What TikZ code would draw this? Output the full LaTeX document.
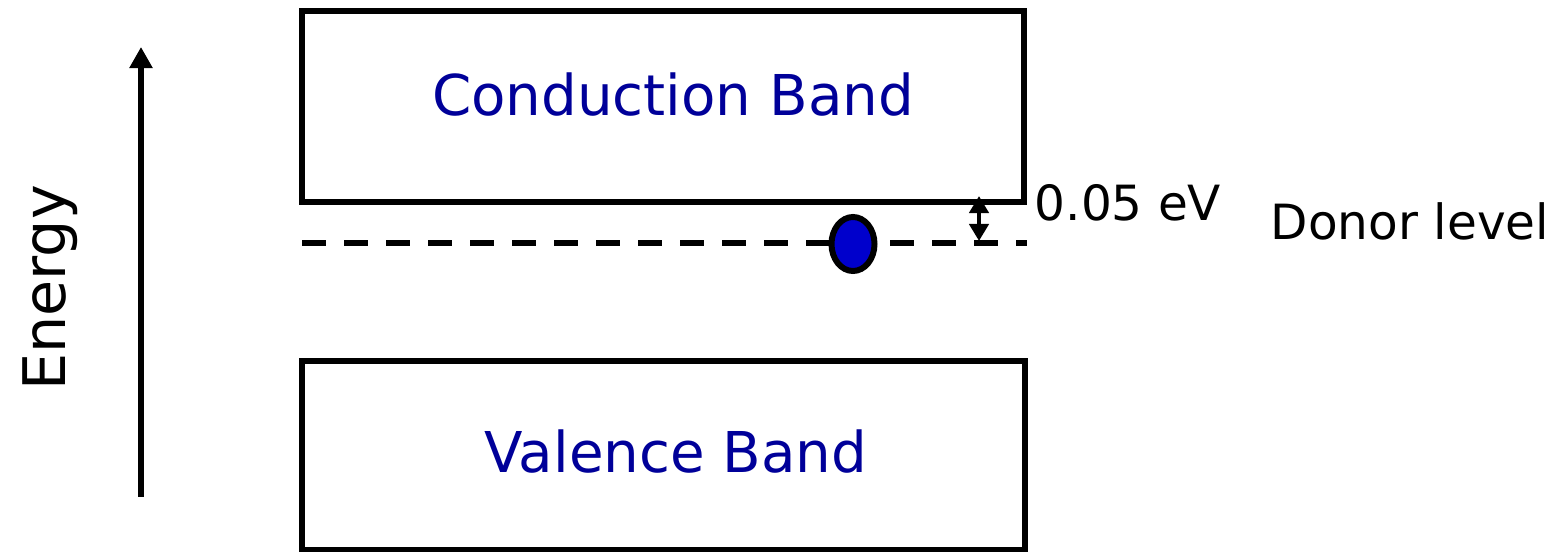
\documentclass[tikz,border=0pt]{standalone}
\usepackage{fontspec}
\setmainfont{DejaVu Sans}
\usepackage{xcolor}
\usetikzlibrary{arrows.meta,shapes.geometric}
\definecolor{bandtext}{HTML}{000099}
\definecolor{electron}{HTML}{0000CC}
\tikzset{
  band/.style={draw=black, line width=1.7pt, minimum width=7.22cm,
               minimum height=1.91cm, inner sep=0pt},
  bandlabel/.style={text=bandtext, font=\fontsize{16}{19}\selectfont, inner sep=0pt},
  smalllabel/.style={text=black, font=\fontsize{13.8}{16}\selectfont, inner sep=0pt},
  gaparrow/.style={{Triangle[length=1.7mm,width=1.9mm]}-{Triangle[length=1.7mm,width=1.9mm]},
                   line width=1.4pt},
  axis/.style={-{Triangle[length=2.1mm,width=2.2mm]}, line width=1.7pt}
}

\begin{document}
\begin{tikzpicture}[x=0.01cm,y=-0.01cm]
  \useasboundingbox (0,0) rectangle (1557,552);
  % the two bands
  \node[band] (cb) at (663,106.5) {};
  \node[band, minimum height=1.89cm] (vb) at (663.5,455.5) {};
  \node[bandlabel] (cblabel) at (673,95) {Conduction Band};
  \node[bandlabel] (vblabel) at (676,452) {Valence Band};
  % donor level just below the conduction band
  \coordinate (lvlL) at (302,243);
  \coordinate (lvlR) at (1027,243);
  \draw[line width=1.7pt, dash pattern=on 0.24cm off 0.18cm] (lvlL) -- (lvlR);
  \node[ellipse, draw, line width=1.7pt, fill=electron, minimum width=0.43cm,
        minimum height=0.54cm, inner sep=0pt] (donorel) at (853,244) {};
  % gap to the band edge
  \coordinate (gaptop) at (979,196);
  \coordinate (gapbot) at (979,241);
  \draw[gaparrow] (gaptop) -- (gapbot);
  \node[smalllabel] (gaplabel) at (1128,203) {0.05 eV};
  \node[smalllabel] (donor) at (1410,221) {Donor level};
  % energy axis
  \coordinate (axlow) at (141,497);
  \coordinate (axhigh) at (141,47);
  \draw[axis] (axlow) -- (axhigh);
  \node[smalllabel, font=\fontsize{16.7}{19}\selectfont, rotate=90] (energy) at (50,288) {Energy};
\end{tikzpicture}
\end{document}
